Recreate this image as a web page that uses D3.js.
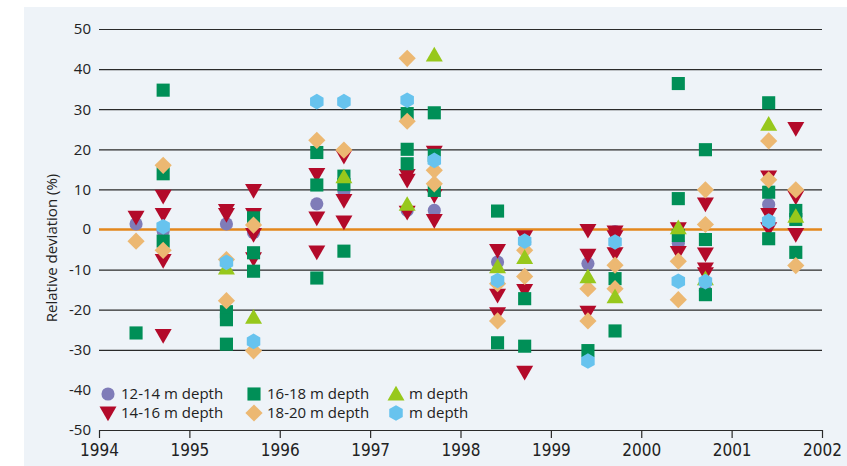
<!DOCTYPE html>
<html>
<head>
<meta charset="utf-8">
<script src="https://cdn.jsdelivr.net/npm/d3@7"></script>
<style>
  html, body { margin: 0; padding: 0; background: #ffffff; }
  svg { display: block; }
  text { font-family: "Open Sans", "DejaVu Sans", sans-serif; fill: #222; }
</style>
</head>
<body>
<svg id="chart" width="847" height="466"></svg>
<script>
// Sampling times (decimal years) – two campaigns per year
const dates = [1994.41, 1994.71, 1995.41, 1995.71, 1996.41, 1996.71, 1997.41, 1997.71,
               1998.41, 1998.71, 1999.41, 1999.71, 2000.41, 2000.71, 2001.41, 2001.71];

// Relative deviation (%) per sampling time, one list of values per date
const depth12_14 = [[1.4], [-0.4], [1.4], [-0.8], [6.4], [9.6], [4.75], [4.75],
                    [-8.1], [-3.1], [-8.5], [-0.5], [-3.4], [-15.25], [6.25], []];
const depth14_16 = [[3.1], [8.3, 3.75, -7.7, -26.4], [4.75, 3.75], [9.75, 3.75, -1.25, -7.25],
                    [13.75, 2.9, -5.6], [18.3, 7.25, 1.9], [13.5, 12.3, 4.3], [19.3, 8.5, 2.25],
                    [-5.2, -16.4, -21], [-1.8, -15.2, -35.6], [-0.2, -6.4, -20.6], [-0.6, -1.8, -6],
                    [0.2, -5.7], [6.4, -6.1, -9.8, -11], [13.1, 3.75, 0.2], [25.2, 8.1, -1.25]];
const depth16_18 = [[-25.8], [34.75, 13.9, -2.9], [-20.5, -22.5, -28.6], [2.9, -5.8, -10.4],
                    [19.2, 11.1, -12.1], [13.3, 11.2, -5.4], [28.9, 20, 16.4], [29.1, 18.5, 9.75],
                    [4.6, -28.25], [-17.25, -29.1], [-30.2], [-12.25, -25.3],
                    [36.4, 7.7, -1.5], [19.9, -2.5, -16.25], [31.6, 9.3, -2.3], [4.75, 2.5, -5.7]];
const depthA = [[], [], [-9.6], [-21.9], [], [13.1], [6.25], [43.5],
                [-9.3], [-7], [-11.8], [-16.8], [0.4], [-12.3], [26.25], [3.25]];
const depth18_20 = [[-2.9], [16, -5.2], [-7.5, -17.75], [1.1, -30.25], [22.25], [19.8], [42.7, 27], [14.75, 11.4],
                    [-13.5, -22.8], [-5.2, -11.7], [-14.75, -22.8], [-8.9, -14.75],
                    [-7.9, -17.5], [9.9, 1.25], [22.1, 12.4], [9.9, -9]];
const depthB = [[], [0.7], [-8.2], [-27.9], [31.9], [31.9], [32.25], [17.25],
                [-12.7], [-2.9], [-32.8], [-3.1], [-12.9], [-13], [2.1], []];

const yTicks = [50, 40, 30, 20, 10, 0, -10, -20, -30, -40, -50];
const xTicks = [1994, 1995, 1996, 1997, 1998, 1999, 2000, 2001, 2002];

// Series in drawing order (bottom to top)
const series = [
  { name: "12-14 m depth", values: depth12_14, shape: "circle",  color: "#7f7cb8" },
  { name: "14-16 m depth", values: depth14_16, shape: "triDown", color: "#b30a2a" },
  { name: "16-18 m depth", values: depth16_18, shape: "square",  color: "#008f57" },
  { name: "18-20 m depth", values: depth18_20, shape: "diamond", color: "#ecb872" },
  { name: "m depth",       values: depthA,     shape: "triUp",   color: "#97c81c" },
  { name: "m depth",       values: depthB,     shape: "hexagon", color: "#67c3ee" }
];

const svg = d3.select("#chart");
const bg = "#eef3f8";
const fmt = d => String(d);

svg.append("rect").attr("x", 24).attr("y", 7).attr("width", 823).attr("height", 459).attr("fill", bg);

const x = d3.scaleLinear().domain([1994, 2002]).range([99, 822]);
const y = d3.scaleLinear().domain([-50, 50]).range([430, 29]);

// Horizontal gridlines with left ticks
const yAxis = d3.axisLeft(y).tickValues(yTicks.filter(v => v !== -50 && v !== 0))
  .tickSize(-(x.range()[1] - x.range()[0])).tickPadding(8).tickFormat(fmt);
const gy = svg.append("g").attr("transform", `translate(${x.range()[0]},0)`).call(yAxis);
gy.select(".domain").remove();
gy.selectAll(".tick line").attr("stroke", "#2a2a2a").attr("stroke-width", 1.2);
gy.selectAll(".tick text").attr("font-size", 15).attr("fill", "#222");

// Labels for 0 and -50 (drawn by the zero line and x axis)
svg.selectAll("text.extra").data([0, -50]).join("text")
  .attr("class", "extra")
  .attr("x", x.range()[0] - 8).attr("y", d => y(d)).attr("dy", "0.32em")
  .attr("text-anchor", "end").attr("font-size", 15).text(fmt);

// Bottom axis at -50
const xAxis = d3.axisBottom(x).tickValues(xTicks).tickSize(8).tickSizeOuter(0).tickPadding(6).tickFormat(fmt);
const gx = svg.append("g").attr("transform", `translate(0,${y(-50)})`).call(xAxis);
gx.select(".domain").attr("stroke", "#2a2a2a").attr("stroke-width", 1.2);
gx.selectAll(".tick line").attr("stroke", "#2a2a2a").attr("stroke-width", 1.2);
gx.selectAll(".tick text").attr("font-size", 17).attr("fill", "#222")
  .style("font-family", "'Liberation Sans Narrow', 'DejaVu Sans Condensed', sans-serif");

// Legend panel hides the -40 gridline
svg.append("rect").attr("x", 98).attr("y", 379).attr("width", 726).attr("height", 44).attr("fill", bg);

// Zero reference line
svg.append("line")
  .attr("x1", x.range()[0]).attr("x2", x.range()[1])
  .attr("y1", y(0)).attr("y2", y(0))
  .attr("stroke", "#e3871c").attr("stroke-width", 2.4);

// Y axis title
svg.append("text")
  .attr("transform", "translate(57,248) rotate(-90)")
  .attr("text-anchor", "middle").attr("font-size", 15)
  .text("Relative deviation (%)");

// Marker shapes
function hexPath(r) {
  const pts = d3.range(6).map(k => {
    const a = (Math.PI / 3) * k - Math.PI / 2;
    return [r * Math.cos(a), r * Math.sin(a)];
  });
  return "M" + pts.map(p => p.join(",")).join("L") + "Z";
}
const shapePath = {
  circle:  d3.symbol(d3.symbolCircle, 136)(),
  square:  d3.symbol(d3.symbolSquare, 172)(),
  triUp:   d3.symbol(d3.symbolTriangle, 125)(),
  triDown: d3.symbol(d3.symbolTriangle, 125)(),
  diamond: d3.symbol(d3.symbolSquare, 148)(),
  hexagon: hexPath(7.8)
};
const shapeRotate = { triDown: 180, diamond: 45 };

function marker(sel, s) {
  sel.attr("d", shapePath[s.shape]).attr("fill", s.color);
}
function place(px, py, s) {
  const r = shapeRotate[s.shape] || 0;
  const dy = s.shape === "triUp" ? 1.5 : (s.shape === "triDown" ? -1.5 : 0);
  return `translate(${px},${py + dy}) rotate(${r})`;
}

// Points
series.forEach(s => {
  const pts = [];
  s.values.forEach((vals, i) => vals.forEach(v => pts.push({ t: dates[i], v })));
  svg.append("g").selectAll("path").data(pts).join("path")
    .call(marker, s)
    .attr("transform", d => place(x(d.t), y(d.v), s));
});

// Legend
const legendPos = [
  { s: series[0], x: 108, y: 394 },
  { s: series[1], x: 108, y: 413 },
  { s: series[2], x: 254, y: 394 },
  { s: series[3], x: 254, y: 413 },
  { s: series[4], x: 396, y: 394 },
  { s: series[5], x: 396, y: 413 }
];
const lg = svg.append("g").selectAll("g").data(legendPos).join("g");
lg.append("path").each(function (d) {
  d3.select(this).call(marker, d.s).attr("transform", place(d.x, d.y, d.s));
});
lg.append("text")
  .attr("x", d => d.x + 13).attr("y", d => d.y).attr("dy", "0.35em")
  .attr("font-size", 15).text(d => d.s.name);
</script>
</body>
</html>
